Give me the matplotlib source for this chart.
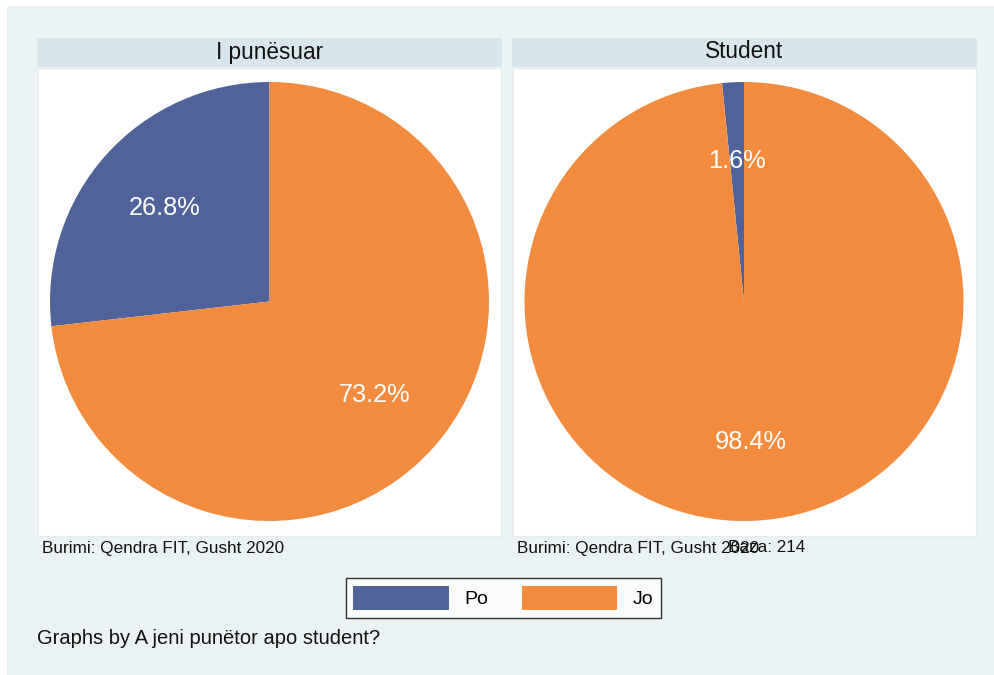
import matplotlib
matplotlib.use("Agg")
import matplotlib.pyplot as plt
from matplotlib.patches import Rectangle, Patch

plt.rcParams['font.family'] = ['Liberation Sans', 'DejaVu Sans']

# Data
panels = ["I punësuar", "Student"]
categories = ["Po", "Jo"]
shares = [[26.8, 73.2], [1.6, 98.4]]
colors = ["#4F639A", "#F38B3F"]
notes = ["Burimi: Qendra FIT, Gusht 2020", "Burimi: Qendra FIT, Gusht 2020"]
extra_note = "Baza: 214"
by_note = "Graphs by A jeni punëtor apo student?"

W, H = 995, 675
fig = plt.figure(figsize=(W / 100, H / 100), dpi=100, facecolor="white")

def fx(x):
    return x / W

def fy(y):
    return 1 - y / H

# outer graph region
fig.patches.append(Rectangle((fx(7), 0), 1 - fx(7), fy(6), transform=fig.transFigure,
                             facecolor="#EAF2F3", edgecolor="none", zorder=0))

panel_left = [37, 512]
panel_right = [502, 977]
pie_cx = [269.5, 744]
pie_cy = 301.5
R = 219.5

for i in range(2):
    l, r = panel_left[i], panel_right[i]
    # title bar
    fig.patches.append(Rectangle((fx(l), fy(67)), fx(r - l), (67 - 38) / H,
                                 transform=fig.transFigure, facecolor="#D8E5EB",
                                 edgecolor="none", zorder=1))
    fig.text(fx((l + r) / 2), fy(52), panels[i], ha="center", va="center",
             fontsize=16.3, color="#111111", zorder=3)
    # plot region
    fig.patches.append(Rectangle((fx(l + 1), fy(536)), fx(r - l - 2), (536 - 68) / H,
                                 transform=fig.transFigure, facecolor="white",
                                 edgecolor="#E4ECEF", linewidth=0.8, zorder=1))
    ax = fig.add_axes([fx(pie_cx[i] - R), fy(pie_cy + R), 2 * R / W, 2 * R / H])
    ax.set_zorder(2)
    wedges, texts, autotexts = ax.pie(
        shares[i], colors=colors, startangle=90, counterclock=True,
        autopct="%1.1f%%", pctdistance=0.64,
        wedgeprops=dict(linewidth=0, edgecolor="none"),
        textprops=dict(color="white", fontsize=18.3))
    ax.set_xlim(-1, 1)
    ax.set_ylim(-1, 1)
    ax.set_aspect("equal")
    ax.axis("off")
    fig.text(fx(l + 5), fy(548), notes[i], ha="left", va="center", fontsize=12.3,
             color="#111111", zorder=3)

fig.text(fx(728), fy(548), extra_note, ha="left", va="center", fontsize=12.3,
         color="#111111", zorder=3)

handles = [Patch(facecolor=c, edgecolor="none", label=lab) for c, lab in zip(colors, categories)]
leg = fig.legend(handles=handles, loc="center", bbox_to_anchor=(fx(503.5), fy(598)),
                 ncol=2, fontsize=14, frameon=True, fancybox=False,
                 handlelength=4.9, handleheight=1.55, handletextpad=0.8,
                 columnspacing=1.75, borderpad=0.4)
leg.get_frame().set_edgecolor("black")
leg.get_frame().set_linewidth(1.0)
leg.get_frame().set_facecolor("white")

fig.text(fx(37), fy(638), by_note, ha="left", va="center", fontsize=14.5,
         color="#111111", zorder=3)

fig.savefig("out.png", dpi=100, facecolor="white")
